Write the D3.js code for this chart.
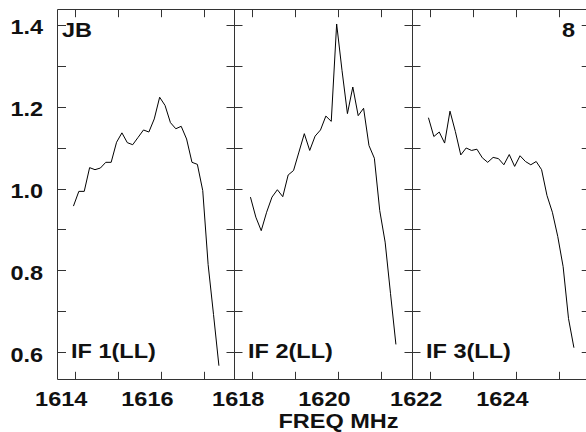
<!DOCTYPE html>
<html>
<head>
    <style>
        body { margin: 0; background: #fff; }
        .lbl {
            font-family: "Liberation Sans", Arial, Helvetica, sans-serif;
            font-weight: bold;
            fill: #111;
        }
    </style>
    <script src="https://d3js.org/d3.v7.min.js"></script>
</head>
<body>
    <div id="chart"></div>

    <script>
        // channel frequencies (MHz) and amplitudes for each IF
        const freqIF1 = [1613.970, 1614.095, 1614.220, 1614.345, 1614.470, 1614.595, 1614.720,
            1614.845, 1614.970, 1615.095, 1615.220, 1615.345, 1615.470, 1615.595, 1615.720,
            1615.845, 1615.970, 1616.095, 1616.220, 1616.345, 1616.470, 1616.595, 1616.720,
            1616.845, 1616.970, 1617.095, 1617.220, 1617.345];
        const ampIF1 = [0.957, 0.993, 0.993, 1.051, 1.046, 1.050, 1.064, 1.064, 1.113, 1.136,
            1.112, 1.107, 1.125, 1.143, 1.138, 1.170, 1.223, 1.203, 1.161, 1.146, 1.152, 1.121,
            1.064, 1.059, 0.995, 0.814, 0.692, 0.567];

        const freqIF2 = [1617.970, 1618.095, 1618.220, 1618.345, 1618.470, 1618.595, 1618.720,
            1618.845, 1618.970, 1619.095, 1619.220, 1619.345, 1619.470, 1619.595, 1619.720,
            1619.845, 1619.970, 1620.095, 1620.220, 1620.345, 1620.470, 1620.595, 1620.720,
            1620.845, 1620.970, 1621.095, 1621.220, 1621.345];
        const ampIF2 = [0.979, 0.930, 0.897, 0.942, 0.979, 0.997, 0.980, 1.033, 1.044, 1.089,
            1.134, 1.093, 1.128, 1.143, 1.177, 1.164, 1.402, 1.288, 1.183, 1.248, 1.178, 1.196,
            1.105, 1.074, 0.946, 0.869, 0.743, 0.619];

        const freqIF3 = [1621.970, 1622.095, 1622.220, 1622.345, 1622.470, 1622.595, 1622.720,
            1622.845, 1622.970, 1623.095, 1623.220, 1623.345, 1623.470, 1623.595, 1623.720,
            1623.845, 1623.970, 1624.095, 1624.220, 1624.345, 1624.470, 1624.595, 1624.720,
            1624.845, 1624.970, 1625.095, 1625.220, 1625.345];
        const ampIF3 = [1.173, 1.127, 1.138, 1.111, 1.189, 1.139, 1.082, 1.099, 1.093, 1.096,
            1.075, 1.064, 1.076, 1.073, 1.058, 1.083, 1.054, 1.080, 1.066, 1.058, 1.066, 1.046,
            0.983, 0.942, 0.883, 0.809, 0.682, 0.611];

        const panelNames = ["IF 1(LL)", "IF 2(LL)", "IF 3(LL)"];
        const panelBase = [1614, 1618, 1622];
        const xTicksIF1 = [1614, 1615, 1616, 1617];
        const xTicksIF2 = [1618, 1619, 1620, 1621];
        const xTicksIF3 = [1622, 1623, 1624, 1625];
        const xLabelled = [1614, 1616, 1618, 1620, 1622, 1624];
        const yTicks = [0.6, 0.7, 0.8, 0.9, 1.0, 1.1, 1.2, 1.3, 1.4];
        const yLabelled = [0.6, 0.8, 1.0, 1.2, 1.4];

        const W = 586, H = 432;
        const yTop = 9.5, yBot = 379.5;
        const edges = [57.5, 234.5, 412.5];
        const rightEdge = 590;
        const pxPerMHz = 43.1;
        const stretch = 1.12;   // text is wider than plain Helvetica
        const fs = 21;
        const tickColor = "#333";

        const svg = d3.select("#chart").append("svg")
            .attr("width", W)
            .attr("height", H);

        const yScale = d3.scaleLinear().domain([0.5333, 1.4374]).range([yBot, yTop]);

        function label(x, yy, str, anchor) {
            svg.append("text")
                .attr("class", "lbl")
                .attr("transform", `translate(${x},${yy}) scale(${stretch},1)`)
                .attr("text-anchor", anchor)
                .style("font-size", fs + "px")
                .text(str);
        }

        // frame
        const frame = svg.append("g").attr("stroke", tickColor).attr("stroke-width", 1);
        frame.append("line").attr("x1", edges[0]).attr("x2", 600).attr("y1", yTop).attr("y2", yTop);
        frame.append("line").attr("x1", edges[0]).attr("x2", 600).attr("y1", yBot).attr("y2", yBot);
        edges.forEach(xd =>
            frame.append("line").attr("x1", xd).attr("x2", xd).attr("y1", yTop).attr("y2", yBot));

        // tick marks drawn as 1px filled rects so they always show
        const ticksLayer = svg.append("g").attr("fill", tickColor);

        function yTickMarks(x1, x2) {
            ticksLayer.append("g").selectAll("rect")
                .data(yTicks)
                .join("rect")
                .attr("x", x1).attr("width", x2 - x1)
                .attr("y", d => Math.round(yScale(d)))
                .attr("height", 1);
        }

        function xTickMarks(xScale, ticks, y0, len) {
            ticksLayer.append("g").selectAll("rect")
                .data(ticks)
                .join("rect")
                .attr("x", d => Math.round(xScale(d)))
                .attr("width", 1)
                .attr("y", len > 0 ? y0 : y0 + len)
                .attr("height", Math.abs(len));
        }

        const panels = [
            { freq: freqIF1, amp: ampIF1, ticks: xTicksIF1 },
            { freq: freqIF2, amp: ampIF2, ticks: xTicksIF2 },
            { freq: freqIF3, amp: ampIF3, ticks: xTicksIF3 }
        ];

        panels.forEach((p, i) => {
            const x0 = edges[i];
            const xScale = d3.scaleLinear()
                .domain([panelBase[i] - 0.4, panelBase[i] + 3.7])
                .range([x0, x0 + 4.1 * pxPerMHz]);

            xTickMarks(xScale, p.ticks, 9.5, 7.7);     // top, pointing down
            xTickMarks(xScale, p.ticks, 379.5, -7.7);  // bottom, pointing up

            // tick labels, shifted left of the tick as in the original
            const gb = svg.append("g")
                .attr("transform", `translate(0,${yBot})`)
                .call(d3.axisBottom(xScale)
                    .tickValues(p.ticks.filter(d => xLabelled.includes(d)))
                    .tickSize(0)
                    .tickFormat(d3.format("d")));
            gb.select(".domain").remove();
            gb.selectAll(".tick line").remove();
            gb.selectAll(".tick text")
                .attr("class", "lbl")
                .attr("y", null).attr("dy", null)
                .attr("transform", `translate(-14,26) scale(${stretch},1)`)
                .style("font-size", fs + "px");

            // spectrum
            const line = d3.line().x(d => xScale(d[0])).y(d => yScale(d[1]));
            svg.append("path")
                .datum(p.freq.map((f, k) => [f, p.amp[k]]))
                .attr("fill", "none")
                .attr("stroke", "#000")
                .attr("stroke-width", 1)
                .attr("d", line);

            label(x0 + 13.5, 358, panelNames[i], "start");
        });

        // y tick marks: inward on the left, both sides on dividers, inward on the right
        yTickMarks(57, 66);
        yTickMarks(edges[1] - 8, edges[1] + 8);
        yTickMarks(edges[2] - 8, edges[2] + 8);
        yTickMarks(rightEdge - 8.3, rightEdge);

        // y labels
        const gl = svg.append("g")
            .attr("transform", `translate(${edges[0]},0)`)
            .call(d3.axisLeft(yScale).tickValues(yLabelled).tickSize(0)
                .tickFormat(d3.format(".1f")));
        gl.select(".domain").remove();
        gl.selectAll(".tick line").remove();
        gl.selectAll(".tick text")
            .attr("class", "lbl")
            .attr("x", null).attr("dy", null)
            .attr("transform", `translate(-14.3,9) scale(${stretch},1)`)
            .style("font-size", fs + "px");

        // corner labels and axis title
        label(62, 37.3, "JB", "start");
        label(575, 36.7, "8", "end");
        label(338.5, 428, "FREQ MHz", "middle");
    </script>
</body>
</html>
